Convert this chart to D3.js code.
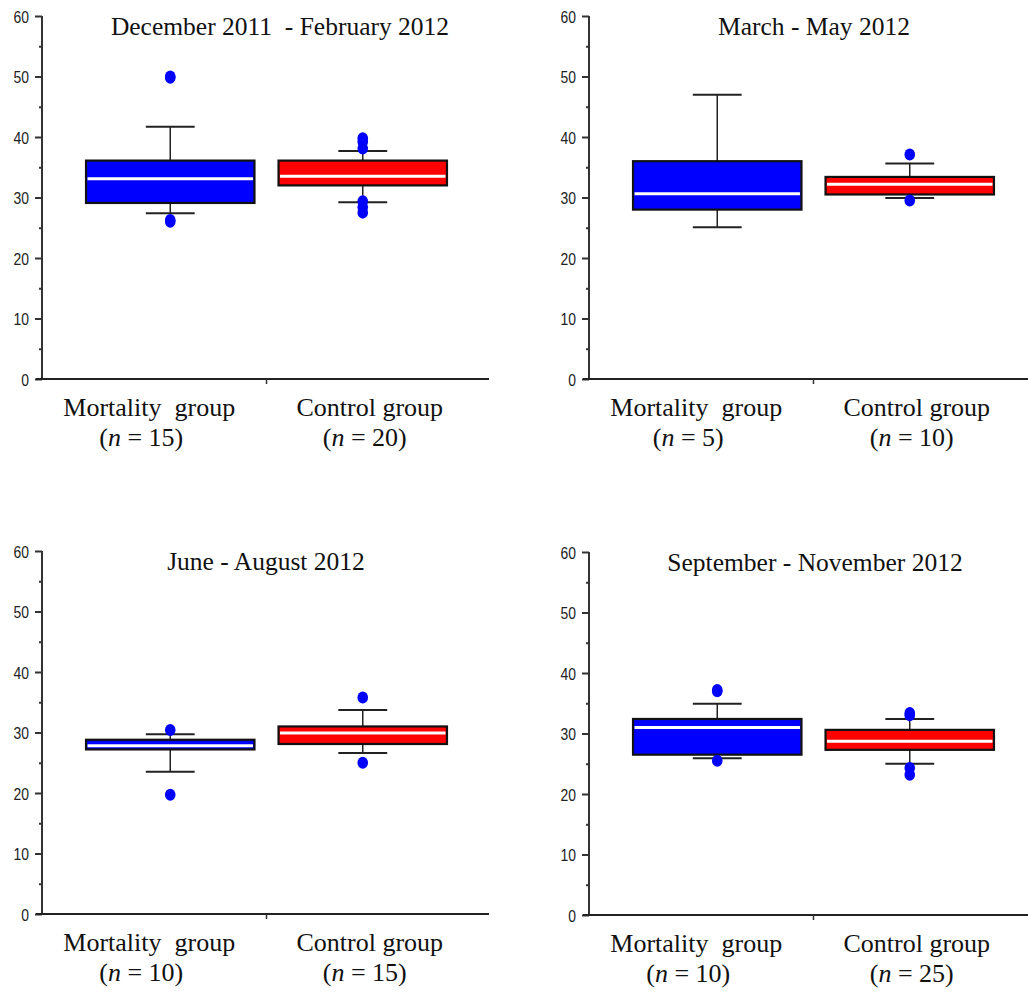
<!DOCTYPE html>
<html>
<head>
<meta charset="utf-8">
<script src="https://cdn.jsdelivr.net/npm/d3@7/dist/d3.min.js"></script>
<style>
  html, body { margin: 0; padding: 0; background: #fff; }
  svg { display: block; }
  .serif { font-family: "Times New Roman", "Liberation Serif", serif; fill: #111; }
</style>
</head>
<body>
<script>
// ---------- data ----------
const periods = ["December 2011  - February 2012", "March - May 2012", "June - August 2012", "September - November 2012"];
const groups = ["Mortality group", "Control group"];
const nMortality = [15, 5, 10, 10];
const nControl = [20, 10, 15, 25];
const yTicks = [0, 10, 20, 30, 40, 50, 60];
const yMinorTicks = [5, 15, 25, 35, 45, 55];

const mortalityLow    = [27.4, 25.1, 23.5, 25.9];
const mortalityQ1     = [29.1, 28.0, 27.2, 26.5];
const mortalityMedian = [33.1, 30.6, 27.8, 31.0];
const mortalityQ3     = [36.1, 36.0, 28.8, 32.4];
const mortalityHigh   = [41.7, 47.0, 29.7, 34.9];
const mortalityOutliers = [[50.0, 49.8, 26.0, 26.3], [], [30.4, 19.7], [37.2, 37.0, 25.5]];

const controlLow    = [29.2, 29.9, 26.6, 25.0];
const controlQ1     = [32.0, 30.5, 28.1, 27.3];
const controlMedian = [33.5, 32.2, 29.9, 28.7];
const controlQ3     = [36.1, 33.4, 31.0, 30.6];
const controlHigh   = [37.7, 35.6, 33.7, 32.4];
const controlOutliers = [[39.8, 39.2, 38.1, 29.4, 28.4, 27.5], [37.1, 29.5], [35.8, 25.0], [33.4, 33.0, 24.3, 23.2]];

const groupColors = ["#0000ff", "#ff0000"];

// ---------- layout ----------
const W = 1028, H = 992;
const panelOffsets = [
  { dx: 0, y0: 379, y60: 16 },
  { dx: 547, y0: 379, y60: 16 },
  { dx: 0, y0: 914, y60: 551 },
  { dx: 547, y0: 915, y60: 552 }
];
const titleDx = [280, 267, 266, 268];
const tickScaleX = 0.82;

const svg = d3.select("body").append("svg").attr("width", W).attr("height", H);

function stats(i) {
  return [
    { g: 0, low: mortalityLow[i], q1: mortalityQ1[i], med: mortalityMedian[i], q3: mortalityQ3[i], high: mortalityHigh[i], out: mortalityOutliers[i], n: nMortality[i] },
    { g: 1, low: controlLow[i], q1: controlQ1[i], med: controlMedian[i], q3: controlQ3[i], high: controlHigh[i], out: controlOutliers[i], n: nControl[i] }
  ];
}

periods.forEach((title, i) => {
  const p = panelOffsets[i];
  const g = svg.append("g").attr("transform", `translate(${p.dx},0)`);
  const axisX = 42;
  const y = d3.scaleLinear().domain([0, 60]).range([p.y0, p.y60]);
  const x = d3.scaleBand().domain(groups).range([74, 459]).paddingInner(0).paddingOuter(0);
  const bw = x.bandwidth() * 0.875;
  const capW = bw * 0.29;

  // y axis major
  const ya = g.append("g").attr("transform", `translate(${axisX},0)`)
    .call(d3.axisLeft(y).tickValues(yTicks).tickSize(7).tickPadding(5).tickFormat(d3.format("d")));
  ya.attr("font-size", null).attr("font-family", null);
  ya.select(".domain").attr("stroke", "#333").attr("stroke-width", 2).attr("d", `M0,${p.y0}V${p.y60}`);
  ya.selectAll(".tick line").attr("stroke", "#333").attr("stroke-width", 2);
  ya.selectAll(".tick text")
    .style("font-family", '"Liberation Sans", Arial, sans-serif')
    .style("font-size", "17px")
    .attr("fill", "#222")
    .attr("dy", "0.36em")
    .attr("x", -13 / tickScaleX)
    .attr("transform", `scale(${tickScaleX},1)`);
  // y axis minor
  const ym = g.append("g").attr("transform", `translate(${axisX},0)`)
    .call(d3.axisLeft(y).tickValues(yMinorTicks).tickSize(3).tickFormat(""));
  ym.select(".domain").remove();
  ym.selectAll(".tick line").attr("stroke", "#333").attr("stroke-width", 2);

  // x axis
  const xa = g.append("g").attr("transform", `translate(0,${p.y0})`);
  xa.append("line").attr("x1", axisX - 6).attr("x2", axisX + 447).attr("y1", 0).attr("y2", 0)
    .attr("stroke", "#222").attr("stroke-width", 2.2);
  const mid = (x(groups[0]) + x(groups[1]) + x.bandwidth()) / 2;
  xa.append("line").attr("x1", mid).attr("x2", mid).attr("y1", 0).attr("y2", 5)
    .attr("stroke", "#333").attr("stroke-width", 1.5);

  // title
  g.append("text").attr("class", "serif").attr("x", titleDx[i]).attr("y", p.y60 + 19)
    .attr("text-anchor", "middle").attr("font-size", 25.5).style("white-space", "pre").text(title);

  const data = stats(i);
  data.forEach(d => {
    const cx = x(groups[d.g]) + x.bandwidth() / 2;
    const bg = g.append("g");
    // whiskers
    bg.append("line").attr("x1", cx).attr("x2", cx).attr("y1", y(d.q3)).attr("y2", y(d.high)).attr("stroke", "#222").attr("stroke-width", 1.5);
    bg.append("line").attr("x1", cx).attr("x2", cx).attr("y1", y(d.q1)).attr("y2", y(d.low)).attr("stroke", "#222").attr("stroke-width", 1.5);
    bg.append("line").attr("x1", cx - capW / 2).attr("x2", cx + capW / 2).attr("y1", y(d.high)).attr("y2", y(d.high)).attr("stroke", "#222").attr("stroke-width", 2);
    bg.append("line").attr("x1", cx - capW / 2).attr("x2", cx + capW / 2).attr("y1", y(d.low)).attr("y2", y(d.low)).attr("stroke", "#222").attr("stroke-width", 2);
    // box
    bg.append("rect").attr("x", cx - bw / 2).attr("width", bw)
      .attr("y", y(d.q3)).attr("height", y(d.q1) - y(d.q3))
      .attr("fill", groupColors[d.g]).attr("stroke", "#111").attr("stroke-width", 2.2);
    // median
    bg.append("line").attr("x1", cx - bw / 2 + 1.5).attr("x2", cx + bw / 2 - 1.5)
      .attr("y1", y(d.med)).attr("y2", y(d.med)).attr("stroke", "#fff").attr("stroke-width", 3);
    // outliers
    bg.selectAll("ellipse").data(d.out).join("ellipse")
      .attr("cx", cx).attr("cy", v => y(v)).attr("rx", 5.3).attr("ry", 6).attr("fill", "#0000ff");

    // labels
    const l1dx = d.g === 0 ? -21 : 7;
    const l2dx = d.g === 0 ? -29 : 2;
    g.append("text").attr("class", "serif").attr("x", cx + l1dx).attr("y", p.y0 + 37)
      .attr("text-anchor", "middle").attr("font-size", 26).style("white-space", "pre")
      .text(d.g === 0 ? "Mortality  group" : "Control group");
    const t2 = g.append("text").attr("class", "serif").attr("x", cx + l2dx).attr("y", p.y0 + 67)
      .attr("text-anchor", "middle").attr("font-size", 26);
    t2.append("tspan").text("(");
    t2.append("tspan").attr("font-style", "italic").text("n");
    t2.append("tspan").text(" = " + d.n + ")");
  });
});
</script>
</body>
</html>
